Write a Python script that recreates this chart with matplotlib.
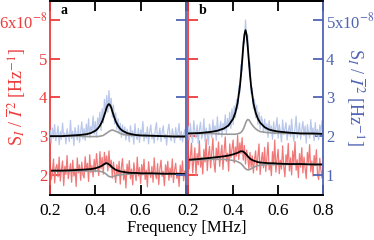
import numpy as np
import matplotlib
matplotlib.use("Agg")
from matplotlib import pyplot as plt

plt.rcParams['font.family'] = 'serif'
plt.rcParams['font.serif'] = ['Liberation Serif', 'DejaVu Serif']
plt.rcParams['mathtext.fontset'] = 'stix'

# measured spectra, units of 1e-8 Hz^-1 (blue on right scale, red on left scale)
freq = np.linspace(0.2, 0.8, 121)

a_blue = [2.15, 1.82, 2.21, 1.95, 2.30, 1.88, 2.05, 2.26, 1.78, 2.12,
          1.92, 2.34, 1.97, 2.08, 1.80, 2.19, 2.02, 1.86, 2.41, 1.94,
          2.13, 1.76, 2.22, 2.06, 1.90, 2.28, 1.84, 2.11, 2.37, 1.93,
          2.20, 1.89, 2.31, 2.02, 2.45, 1.96, 2.25, 2.12, 2.52, 2.05,
          2.38, 1.98, 2.47, 2.29, 2.62, 2.15, 2.71, 2.34, 2.95, 2.58,
          3.05, 2.62, 3.18, 2.71, 2.98, 2.49, 2.80, 2.31, 2.60, 2.18,
          2.45, 2.10, 2.33, 1.97, 2.29, 2.02, 2.24, 1.90, 2.18, 2.05,
          1.85, 2.27, 1.98, 2.14, 1.79, 2.32, 2.00, 1.91, 2.20, 1.84,
          2.16, 2.03, 2.38, 1.87, 2.09, 1.95, 2.24, 1.80, 2.12, 2.29,
          1.93, 2.06, 1.82, 2.18, 2.35, 1.90, 2.01, 2.21, 1.86, 2.10,
          2.27, 1.94, 2.05, 1.77, 2.14, 2.31, 1.99, 1.88, 2.19, 2.04,
          1.83, 2.22, 1.96, 2.09, 2.33, 1.90, 2.12, 1.85, 2.03, 2.17, 1.95]

a_red = [2.32, 1.88, 2.05, 2.41, 1.79, 2.18, 2.27, 1.95, 2.46, 1.84,
         2.14, 2.36, 1.72, 2.22, 2.01, 2.50, 1.90, 2.09, 2.29, 1.81,
         2.38, 1.97, 2.16, 1.70, 2.44, 2.05, 2.26, 1.86, 2.33, 2.00,
         1.92, 2.47, 2.10, 2.30, 1.83, 2.52, 2.06, 2.24, 1.95, 2.40,
         2.08, 2.55, 2.21, 1.98, 2.60, 2.16, 2.45, 2.02, 2.58, 2.27,
         2.49, 2.10, 2.62, 2.19, 2.38, 1.92, 2.33, 2.04, 1.80, 2.26,
         1.98, 2.35, 1.76, 2.20, 2.42, 1.87, 2.13, 1.66, 2.28, 2.01,
         2.37, 1.90, 2.15, 1.74, 2.31, 2.06, 1.85, 2.46, 1.97, 2.19,
         1.78, 2.27, 2.00, 2.40, 1.88, 2.12, 1.69, 2.34, 2.05, 1.93,
         2.22, 1.81, 2.44, 2.03, 1.90, 2.29, 1.75, 2.15, 2.38, 1.96,
         2.09, 1.72, 2.26, 2.01, 2.35, 1.86, 2.18, 1.94, 2.41, 1.80,
         2.13, 2.30, 1.91, 2.06, 1.70, 2.25, 1.98, 2.36, 1.85, 2.10, 2.00]

b_blue = [2.25, 1.90, 2.33, 2.01, 1.84, 2.40, 2.12, 1.95, 2.29, 1.80,
          2.17, 2.36, 1.93, 2.06, 2.45, 1.87, 2.21, 2.03, 1.78, 2.31,
          2.14, 1.96, 2.42, 2.08, 2.27, 1.89, 2.50, 2.04, 2.19, 2.38,
          1.98, 2.33, 2.15, 2.55, 2.07, 2.46, 2.24, 2.62, 2.20, 2.71,
          2.30, 2.78, 2.48, 2.95, 2.70, 3.30, 3.12, 3.85, 3.70, 4.45,
          4.40, 5.00, 4.55, 4.60, 3.80, 3.90, 3.10, 3.25, 2.70, 2.95,
          2.48, 2.80, 2.30, 2.62, 2.18, 2.51, 2.40, 2.09, 2.44, 2.15,
          2.32, 1.97, 2.40, 2.11, 2.26, 1.92, 2.37, 2.05, 2.22, 2.48,
          1.95, 2.30, 2.10, 1.85, 2.42, 2.04, 2.19, 2.35, 1.90, 2.14,
          2.28, 1.99, 2.44, 2.07, 1.87, 2.20, 2.52, 1.96, 2.12, 2.34,
          1.92, 2.15, 2.38, 2.01, 2.26, 1.82, 2.30, 2.09, 1.95, 2.43,
          2.06, 2.21, 1.88, 2.35, 2.02, 2.17, 1.91, 2.29, 2.10, 2.40, 1.97]

b_red = [2.60, 2.15, 2.48, 2.82, 2.05, 2.37, 2.70, 1.98, 2.55, 2.26,
         2.88, 2.20, 2.45, 2.02, 2.66, 2.33, 2.92, 2.11, 2.50, 2.74,
         2.18, 2.58, 2.95, 2.30, 2.07, 2.69, 2.40, 2.85, 2.22, 2.53,
         2.77, 2.14, 2.62, 2.98, 2.35, 2.56, 2.10, 2.80, 2.44, 2.67,
         2.90, 2.31, 2.72, 2.48, 3.02, 2.40, 2.83, 2.55, 2.96, 2.38,
         2.76, 2.28, 2.64, 2.45, 2.15, 2.58, 2.20, 2.49, 2.05, 2.40,
         2.62, 2.12, 2.47, 2.80, 2.01, 2.36, 2.58, 2.18, 2.71, 2.09,
         2.45, 2.84, 2.13, 2.32, 1.98, 2.60, 2.25, 2.90, 2.07, 2.41,
         2.66, 2.03, 2.38, 2.15, 2.75, 2.22, 1.95, 2.52, 2.30, 2.81,
         2.10, 2.44, 2.00, 2.62, 2.27, 2.86, 2.12, 2.39, 1.93, 2.55,
         2.20, 2.70, 2.05, 2.46, 2.16, 1.90, 2.58, 2.32, 2.78, 2.08,
         2.36, 1.97, 2.50, 2.24, 2.65, 2.02, 1.88, 2.43, 2.14, 1.92, 2.30]

# fitted curves
fit_f = [0.20, 0.25, 0.30, 0.33, 0.36, 0.38, 0.40, 0.41, 0.42, 0.43, 0.435,
         0.44, 0.445, 0.45, 0.455, 0.46, 0.465, 0.47, 0.475, 0.48, 0.49,
         0.50, 0.51, 0.52, 0.54, 0.56, 0.58, 0.60, 0.65, 0.70, 0.75, 0.80]

a_blue_fit = [2.00, 2.00, 2.02, 2.03, 2.05, 2.08, 2.14, 2.19, 2.27, 2.38, 2.46,
              2.55, 2.64, 2.74, 2.80, 2.83, 2.80, 2.74, 2.64, 2.55, 2.38,
              2.27, 2.19, 2.14, 2.08, 2.05, 2.03, 2.02, 2.01, 2.00, 1.99, 1.99]
a_blue_gray = [2.00, 2.00, 2.00, 2.00, 1.99, 1.99, 1.99, 1.99, 2.00, 2.01, 2.02,
               2.04, 2.06, 2.08, 2.10, 2.12, 2.14, 2.15, 2.16, 2.15, 2.13,
               2.10, 2.07, 2.05, 2.03, 2.02, 2.02, 2.01, 2.01, 2.00, 2.00, 1.99]
a_red_fit = [2.11, 2.11, 2.12, 2.13, 2.14, 2.15, 2.17, 2.19, 2.21, 2.24, 2.26,
             2.28, 2.30, 2.30, 2.29, 2.27, 2.25, 2.22, 2.19, 2.17, 2.13,
             2.11, 2.09, 2.08, 2.06, 2.05, 2.05, 2.04, 2.04, 2.03, 2.03, 2.02]
a_red_gray = [2.10, 2.10, 2.10, 2.10, 2.10, 2.10, 2.10, 2.10, 2.09, 2.08, 2.07,
              2.05, 2.03, 2.01, 1.98, 1.96, 1.95, 1.95, 1.95, 1.96, 1.98,
              1.99, 2.00, 2.01, 2.02, 2.02, 2.03, 2.03, 2.03, 2.03, 2.02, 2.02]

b_blue_fit = [2.07, 2.08, 2.11, 2.14, 2.20, 2.28, 2.45, 2.61, 2.86, 3.28, 3.58,
              3.94, 4.31, 4.62, 4.74, 4.62, 4.31, 3.94, 3.58, 3.28, 2.86,
              2.61, 2.45, 2.35, 2.23, 2.17, 2.14, 2.12, 2.09, 2.07, 2.07, 2.06]
b_blue_gray = [2.07, 2.07, 2.07, 2.06, 2.05, 2.05, 2.05, 2.05, 2.06, 2.08, 2.10,
               2.13, 2.18, 2.25, 2.33, 2.40, 2.43, 2.42, 2.38, 2.33, 2.25,
               2.19, 2.15, 2.12, 2.10, 2.09, 2.08, 2.08, 2.07, 2.07, 2.06, 2.06]
b_red_fit = [2.39, 2.41, 2.44, 2.46, 2.48, 2.50, 2.53, 2.55, 2.57, 2.60, 2.61,
             2.61, 2.60, 2.58, 2.55, 2.52, 2.48, 2.45, 2.42, 2.40, 2.37,
             2.35, 2.33, 2.32, 2.31, 2.30, 2.30, 2.29, 2.28, 2.28, 2.27, 2.27]
b_red_gray = [2.38, 2.39, 2.40, 2.40, 2.40, 2.39, 2.37, 2.36, 2.34, 2.31, 2.29,
              2.26, 2.23, 2.19, 2.16, 2.14, 2.13, 2.13, 2.14, 2.16, 2.19,
              2.22, 2.24, 2.25, 2.26, 2.27, 2.27, 2.27, 2.27, 2.27, 2.27, 2.26]

xticks = [0.2, 0.4, 0.6, 0.8]
left_ticks = [2, 3, 4, 5, 6]
left_labels = ['2', '3', '4', '5', '6x10$^{-8}$']
right_ticks = [1, 2, 3, 4, 5]
right_labels = ['1', '2', '3', '4', '5x10$^{-8}$']

red = '#ee3b3b'
blue = '#5064b4'
light_red = '#f07878'
light_blue = '#b9c8ea'
gray = '#9a9a9a'
ylab = r'S$_I$ / $\overline{I}^{\,2}$ [Hz$^{-1}$]'

fig = plt.figure(figsize=(3.74, 2.40), dpi=100)
ax_a = fig.add_axes([0.134, 0.1875, 0.363, 0.808])
ax_b = fig.add_axes([0.503, 0.1875, 0.361, 0.808])

panels = [(ax_a, 'a', a_blue, a_red, a_blue_fit, a_blue_gray, a_red_fit, a_red_gray),
          (ax_b, 'b', b_blue, b_red, b_blue_fit, b_blue_gray, b_red_fit, b_red_gray)]

for ax, tag, blu, rd, bfit, bgray, rfit, rgray in panels:
    tw = ax.twinx()
    ax.plot(freq, rd, color=light_red, lw=0.9)
    ax.plot(fit_f, rgray, color=gray, lw=1.2)
    ax.plot(fit_f, rfit, color='black', lw=1.3)
    tw.plot(freq, blu, color=light_blue, lw=0.9)
    tw.plot(fit_f, bgray, color=gray, lw=1.2)
    tw.plot(fit_f, bfit, color='black', lw=1.3)

    ax.set_xlim(0.2, 0.8)
    ax.set_ylim(1.48, 6.49)
    tw.set_ylim(0.48, 5.49)
    ax.set_xticks(xticks)
    ax.set_yticks(left_ticks)
    tw.set_yticks(right_ticks)
    ax.tick_params(axis='x', direction='in', top=True, length=7, width=1.3,
                   labelsize=12.5, pad=6)
    ax.tick_params(axis='y', direction='in', length=7, width=1.3, colors=red,
                   labelsize=12, pad=2)
    tw.tick_params(axis='y', direction='in', length=7, width=1.3, colors=blue,
                   labelsize=12, pad=2)
    for s in ax.spines.values():
        s.set_linewidth(1.3)
    for s in tw.spines.values():
        s.set_linewidth(1.3)
    ax.spines['left'].set_color(red)
    ax.spines['right'].set_visible(False)
    tw.spines['left'].set_visible(False)
    tw.spines['right'].set_color(blue)
    ax.text(0.08, 0.985, tag, transform=ax.transAxes, fontsize=10,
            fontweight='bold', ha='left', va='top')

    if tag == 'a':
        ax.set_xticklabels(['0.2', '0.4', '0.6', ''])
        ax.set_yticklabels(left_labels)
        tw.set_yticklabels([])
        ax.set_ylabel(ylab, color=red, fontsize=13, va='center')
        ax.yaxis.set_label_coords(-0.25, 0.505)
    else:
        ax.set_xticklabels(['0.2', '0.4', '0.6', '0.8'])
        ax.set_yticklabels([])
        tw.set_yticklabels(right_labels)
        tw.set_ylabel(ylab, color=blue, fontsize=13, rotation=270, va='center')
        tw.yaxis.set_label_coords(1.245, 0.505)

fig.text(0.4987, 0.05, 'Frequency [MHz]', ha='center', va='center', fontsize=12)

fig.savefig('out.png', dpi=100)
